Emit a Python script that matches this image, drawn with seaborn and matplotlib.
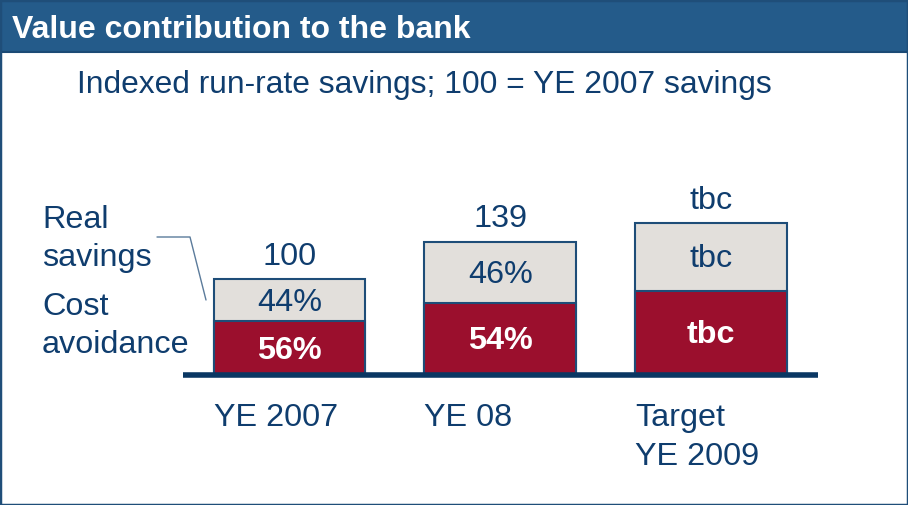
import matplotlib
matplotlib.use("Agg")
import matplotlib.pyplot as plt
import seaborn as sns
import pandas as pd
from matplotlib.patches import Rectangle
from matplotlib.lines import Line2D

# data (indexed, 100 = YE 2007 savings)
categories = ["YE 2007", "YE 08", "Target\nYE 2009"]
totals = [100, 139, 158]          # target bar height is illustrative (tbc)
cost_avoidance = [56, 75, 88]
total_labels = ["100", "139", "tbc"]
real_labels = ["44%", "46%", "tbc"]
cost_labels = ["56%", "54%", "tbc"]

TEXT = "#0F3D6E"
RED = "#9B0F2D"
GREY = "#E2DFDB"
EDGE = "#1E4D78"
HEADER = "#245B8A"

sns.set_theme(style="white")
plt.rcParams["font.family"] = ["Liberation Sans", "DejaVu Sans"]

W, H = 908, 505
fig = plt.figure(figsize=(W / 100, H / 100), dpi=100)

def fx(px):
    return px / W

def fy(py):
    return 1 - py / H

# axes: baseline at y=375px, 0.96 px per unit, x from 183px to 818px
ax = fig.add_axes([fx(183), fy(375), fx(818) - fx(183), 192 / H])
df = pd.DataFrame({"cat": categories, "total": totals, "cost": cost_avoidance})

bw = 0.72
sns.barplot(data=df, x="cat", y="total", color=GREY, width=bw,
            edgecolor=EDGE, linewidth=1.5, saturation=1, ax=ax)
sns.barplot(data=df, x="cat", y="cost", color=RED, width=bw,
            edgecolor=EDGE, linewidth=1.5, saturation=1, ax=ax)
ax.set_xlim(-0.505, 2.507)
ax.set_ylim(0, 200)
ax.axhline(0, color="#0A3763", lw=4, clip_on=False, zorder=5,
           solid_capstyle="butt")
ax.axis("off")

fs = 23.3
for i in range(len(categories)):
    ax.text(i, totals[i] + 23, total_labels[i], ha="center", va="center",
            fontsize=fs, color=TEXT)
    ax.text(i, (totals[i] + cost_avoidance[i]) / 2 - 2.5, real_labels[i],
            ha="center", va="center", fontsize=fs, color=TEXT)
    ax.text(i, cost_avoidance[i] / 2 - 2.5, cost_labels[i], ha="center",
            va="center", fontsize=fs, color="white", fontweight="bold")
    ax.text(i - bw / 2, -29, categories[i], ha="left", va="top",
            fontsize=fs, color=TEXT, linespacing=1.38)

# header bar
fig.add_artist(Rectangle((0, fy(52)), 1, 52 / H, transform=fig.transFigure,
                         facecolor=HEADER, edgecolor="#1B4A75", lw=1.5))
fig.text(fx(12), fy(30), "Value contribution to the bank", color="white",
         fontsize=23, fontweight="bold", va="center", ha="left")
fig.text(fx(77), fy(85), "Indexed run-rate savings; 100 = YE 2007 savings",
         color=TEXT, fontsize=22.9, va="center", ha="left")

# left legend
fig.text(fx(42), fy(239), "Real\nsavings", color=TEXT, fontsize=fs,
         va="center", ha="left", linespacing=1.38)
fig.text(fx(42), fy(326), "Cost\navoidance", color=TEXT, fontsize=fs,
         va="center", ha="left", linespacing=1.38)
fig.add_artist(Line2D([fx(157), fx(190), fx(206)], [fy(237), fy(237), fy(300)],
                      transform=fig.transFigure, color="#5B7B9B", lw=1))

# slide border
fig.add_artist(Rectangle((0, 0), 1, 1, transform=fig.transFigure, fill=False,
                         edgecolor="#1F4E79", lw=2.5))

fig.savefig("out.png", dpi=100)
